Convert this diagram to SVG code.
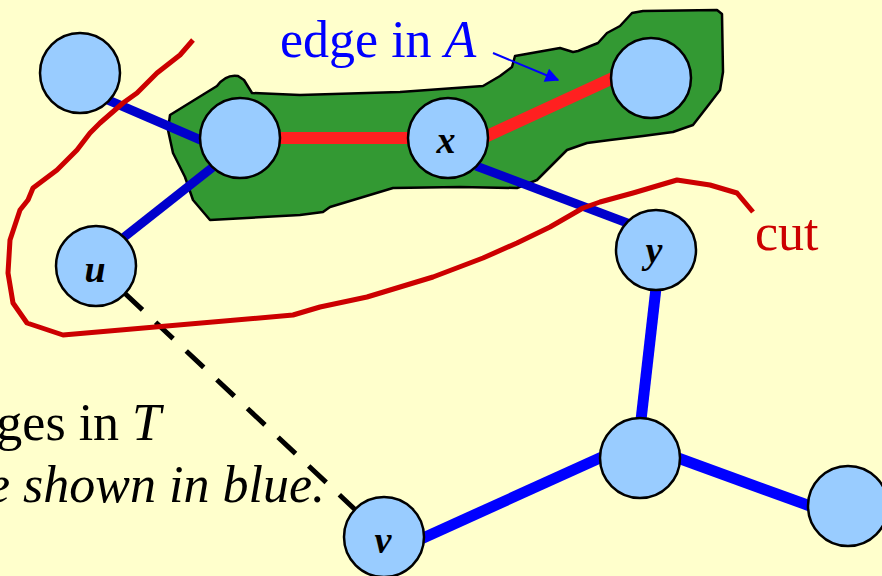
<svg xmlns="http://www.w3.org/2000/svg" width="882" height="576" viewBox="0 0 882 576">
<defs>
<style>
.node{fill:#99CCFF;stroke:#000;stroke-width:2.5}
.lbl{font-family:"Liberation Serif",serif;font-weight:bold;font-style:italic;font-size:38px;text-anchor:middle;fill:#000}
.e-dark{stroke:#0000CC;stroke-width:9;fill:none}
.e-blue{stroke:#0000FF;stroke-width:11;fill:none}
.e-red{stroke:#FF2020;stroke-width:12;fill:none}
.txt{font-family:"Liberation Serif",serif;font-size:52px}
</style>
<marker id="ah" viewBox="0 0 10 10" refX="9" refY="5" markerWidth="8" markerHeight="7" markerUnits="strokeWidth" orient="auto">
<path d="M0,0 L10,5 L0,10 Z" fill="#0000FF"/>
</marker>
</defs>
<rect width="882" height="576" fill="#FFFFCC"/>
<path id="setA" d="M170,115 L217,86 Q226,74 238,76 L244,80 L252,93 L300,95 L400,92 L483,86 L500,76 L512,67 L515,56 L560,48 L573,52 L578,51 L598,43 L607,33 L620,26 L632,13 L643,11 L717,10 L722,14 L723,72 L720,90 L707,107 L693,125 L673,132 L643,136 L610,140 L587,143 L567,150 L557,160 L537,180 L517,188 L460,187 L393,188 L330,207 L323,212 L300,215 L210,220 L193,200 L185,177 L173,153 L168,130 Z" fill="#339933" stroke="#000" stroke-width="2.5" stroke-linejoin="round"/>
<g id="connectors">
<line class="e-dark" x1="108" y1="100" x2="203" y2="141"/>
<line class="e-dark" x1="213" y1="167" x2="123" y2="238"/>
<line class="e-red" x1="278" y1="138" x2="410" y2="138"/>
<line class="e-red" x1="485" y1="137" x2="613" y2="78"/>
<line class="e-dark" x1="476" y1="166" x2="630" y2="224"/>
<line stroke="#000" stroke-width="5" stroke-dasharray="24 18" x1="125" y1="293.5" x2="355" y2="509.5"/>
<line class="e-blue" x1="656" y1="288" x2="641" y2="420"/>
<line class="e-blue" x1="602" y1="457" x2="421" y2="539"/>
<line class="e-blue" x1="678" y1="458" x2="810" y2="506"/>
</g>
<path id="cut" d="M193,40 L180,55 L157,73 L137,93 L123,103 L100,123 L90,133 L77,150 L57,170 L33,188 L28,200 L20,210 L10,240 L8,273 L13,303 L27,323 L63,335 L293,315 L320,307 L367,297 L433,277 L483,258 L517,243 L550,227 L583,208 L600,202 L633,193 L677,180 L710,185 L737,193 L753,212" fill="none" stroke="#CC0000" stroke-width="5" stroke-linejoin="round"/>
<g id="n1"><circle class="node" cx="80" cy="73" r="40"/></g>
<g id="n2"><circle class="node" cx="240" cy="138" r="40"/></g>
<g id="nx"><circle class="node" cx="448" cy="138" r="40"/><text class="lbl" x="446" y="153">x</text></g>
<g id="n4"><circle class="node" cx="651" cy="78" r="40"/></g>
<g id="ny"><circle class="node" cx="656" cy="250" r="40"/><text class="lbl" x="654" y="263">y</text></g>
<g id="nu"><circle class="node" cx="96" cy="266" r="40"/><text class="lbl" x="95" y="282">u</text></g>
<g id="n7"><circle class="node" cx="640" cy="458" r="40"/></g>
<g id="n8"><circle class="node" cx="848" cy="506" r="40"/></g>
<g id="nv"><circle class="node" cx="384" cy="537" r="40"/><text class="lbl" x="383" y="553">v</text></g>
<g id="labels">
<text class="txt" x="280" y="57" fill="#0000FF">edge in <tspan font-style="italic">A</tspan></text>
<line x1="493" y1="53" x2="558" y2="80" stroke="#0000FF" stroke-width="2" marker-end="url(#ah)"/>
<text class="txt" x="755" y="250" fill="#CC0000">cut</text>
<text class="txt" x="161" y="440" text-anchor="end" fill="#000">ges in <tspan font-style="italic">T</tspan></text>
<text class="txt" x="325" y="502" text-anchor="end" font-style="italic" fill="#000">e shown in blue.</text>
</g>
</svg>
